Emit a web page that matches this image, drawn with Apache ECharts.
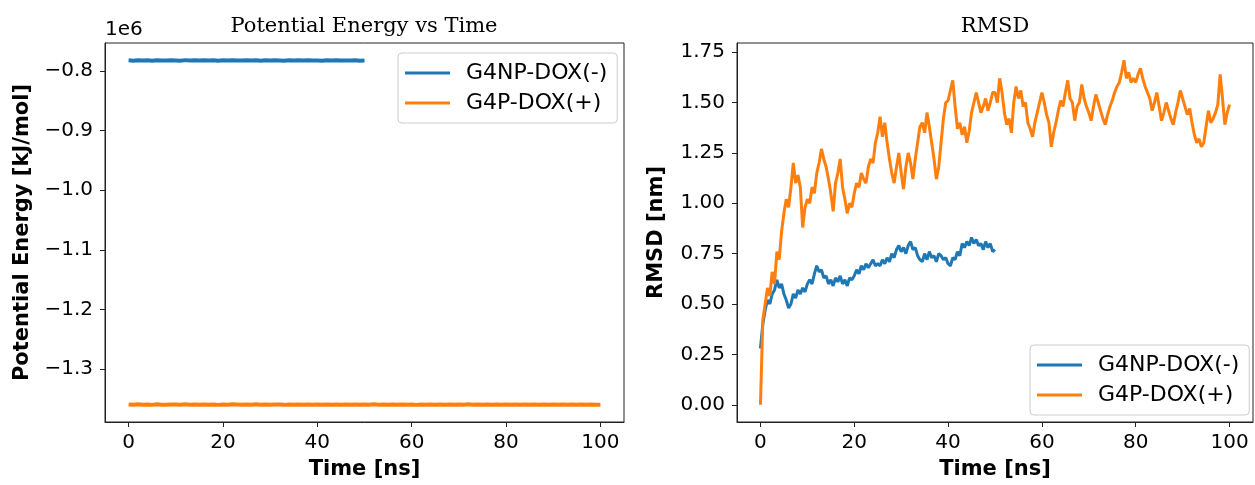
<!DOCTYPE html>
<html>
<head>
<meta charset="utf-8">
<script src="https://cdn.jsdelivr.net/npm/echarts@6/dist/echarts.min.js"></script>
<style>
html,body{margin:0;padding:0;background:#fff;}
#chart{width:1255px;height:485px;}
</style>
</head>
<body>
<div id="chart"></div>
<script>
// ---------- data ----------
const seriesNames = ['G4NP-DOX(-)', 'G4P-DOX(+)'];
const timeTicks = [0, 20, 40, 60, 80, 100];
const energyTicks = [-1300000, -1200000, -1100000, -1000000, -900000, -800000];
const rmsdTicks = [0, 0.25, 0.5, 0.75, 1.0, 1.25, 1.5, 1.75];

// Potential energy (kJ/mol), one sample per ns
const energyStep = 1;
const energyG4NP = [
  -782500, -783100, -782400, -782900, -782600, -783200, -782300, -782800, -783000, -782500,
  -782700, -783100, -782200, -782900, -782600, -783000, -782400, -782800, -782500, -783100,
  -782600, -782900, -782300, -782700, -783000, -782500, -782800, -782400, -783100, -782600,
  -782900, -782500, -782700, -783200, -782400, -782800, -782600, -783000, -782500, -782900,
  -782700, -783100, -782400, -782800, -782600, -783000, -782700, -782900, -782500, -783100,
  -782800
];
const energyG4P = [
  -1359100, -1359700, -1358900, -1359500, -1359200, -1359800, -1358800, -1359400, -1359600, -1359000,
  -1359300, -1359700, -1358800, -1359500, -1359100, -1359600, -1359000, -1359400, -1359200, -1359800,
  -1359000, -1359500, -1358900, -1359300, -1359700, -1359100, -1359400, -1358900, -1359600, -1359200,
  -1359500, -1359000, -1359300, -1359800, -1359100, -1359400, -1359200, -1359600, -1359000, -1359500,
  -1359300, -1359700, -1359000, -1359400, -1359200, -1359600, -1359100, -1359500, -1359000, -1359700,
  -1359300, -1359600, -1358900, -1359400, -1359100, -1359700, -1359200, -1359500, -1359000, -1359400,
  -1359200, -1359800, -1359000, -1359400, -1359100, -1359600, -1359000, -1359500, -1359200, -1359700,
  -1359100, -1359500, -1358900, -1359400, -1359200, -1359600, -1359000, -1359500, -1359300, -1359700,
  -1359100, -1359500, -1359000, -1359400, -1359200, -1359700, -1359000, -1359500, -1359100, -1359600,
  -1359300, -1359700, -1359000, -1359400, -1359200, -1359600, -1359100, -1359500, -1359200, -1359700,
  -1359400
];

// RMSD (nm), one sample per 0.5 ns
const rmsdStep = 0.5;
const rmsdG4NP = [
  0.28, 0.40, 0.47, 0.52, 0.50, 0.55, 0.57, 0.62, 0.58, 0.60,
  0.55, 0.52, 0.48, 0.50, 0.55, 0.53, 0.57, 0.55, 0.58, 0.56,
  0.60, 0.62, 0.60, 0.65, 0.69, 0.66, 0.67, 0.63, 0.64, 0.60,
  0.62, 0.59, 0.63, 0.61, 0.64, 0.60, 0.62, 0.59, 0.63, 0.62,
  0.64, 0.67, 0.65, 0.69, 0.67, 0.70, 0.68, 0.70, 0.72, 0.69,
  0.70, 0.69, 0.72, 0.70, 0.73, 0.71, 0.75, 0.73, 0.77, 0.79,
  0.76, 0.78, 0.75, 0.79, 0.81, 0.77, 0.78, 0.74, 0.72, 0.71,
  0.75, 0.72, 0.76, 0.73, 0.74, 0.71, 0.75, 0.74, 0.72, 0.73,
  0.70, 0.69, 0.73, 0.72, 0.76, 0.74, 0.80, 0.78, 0.81, 0.79,
  0.83, 0.80, 0.82, 0.79, 0.80, 0.77, 0.81, 0.78, 0.80, 0.76,
  0.77
];
const rmsdG4P = [
  0.00, 0.42, 0.50, 0.58, 0.54, 0.66, 0.60, 0.76, 0.72, 0.86,
  0.95, 1.02, 0.98, 1.08, 1.20, 1.10, 1.14, 1.08, 0.88, 0.98,
  1.02, 1.00, 1.08, 1.05, 1.15, 1.20, 1.27, 1.22, 1.18, 1.12,
  1.05, 0.96, 1.10, 1.15, 1.22, 1.08, 1.02, 0.95, 1.00, 0.98,
  1.05, 1.10, 1.08, 1.15, 1.12, 1.10, 1.18, 1.22, 1.20, 1.30,
  1.35, 1.43, 1.33, 1.40, 1.30, 1.22, 1.15, 1.10, 1.18, 1.25,
  1.15, 1.07, 1.18, 1.25, 1.20, 1.12, 1.22, 1.30, 1.38, 1.40,
  1.35, 1.45, 1.38, 1.30, 1.22, 1.12, 1.18, 1.30, 1.42, 1.50,
  1.51, 1.56, 1.61, 1.48, 1.37, 1.40, 1.34, 1.38, 1.30, 1.36,
  1.45, 1.50, 1.55, 1.50, 1.45, 1.48, 1.52, 1.46, 1.50, 1.55,
  1.55, 1.50, 1.62, 1.55, 1.45, 1.39, 1.42, 1.35, 1.50, 1.58,
  1.52, 1.56, 1.48, 1.50, 1.40, 1.37, 1.33, 1.40, 1.45, 1.50,
  1.55, 1.50, 1.44, 1.40, 1.28, 1.35, 1.40, 1.46, 1.51, 1.48,
  1.55, 1.61, 1.52, 1.50, 1.41, 1.48, 1.50, 1.59, 1.52, 1.48,
  1.45, 1.41, 1.48, 1.54, 1.50, 1.46, 1.42, 1.39, 1.44, 1.48,
  1.51, 1.55, 1.58, 1.60, 1.65, 1.71, 1.62, 1.65, 1.60, 1.62,
  1.60, 1.64, 1.67, 1.62, 1.58, 1.55, 1.52, 1.46, 1.50, 1.55,
  1.48, 1.41, 1.45, 1.50, 1.46, 1.42, 1.39, 1.45, 1.50, 1.56,
  1.52, 1.48, 1.44, 1.47, 1.40, 1.34, 1.30, 1.32, 1.28, 1.30,
  1.38, 1.46, 1.40, 1.42, 1.45, 1.49, 1.64, 1.52, 1.39, 1.45,
  1.49
];

// ---------- build ----------
const toPairs = (arr, step) => arr.map((v, i) => [i * step, v]);
const BLUE = '#1f77b4', ORANGE = '#ff7f0e';
const SANS = 'DejaVu Sans';
const SERIF = 'DejaVu Serif';
const tickFont = {fontFamily: SANS, fontSize: 20, color: '#000'};
const nameFont = {fontFamily: SANS, fontSize: 21, fontWeight: 'bold', color: '#000'};

function xAxisFor(idx) {
  return {
    type: 'value', gridIndex: idx, min: -5, max: 105,
    name: 'Time [ns]', nameLocation: 'middle', nameGap: 37, nameTextStyle: nameFont,
    axisLine: {show: true, onZero: false, lineStyle: {color: '#222', width: 1}},
    axisTick: {show: true, length: 5, lineStyle: {color: '#222', width: 1}, customValues: timeTicks},
    axisLabel: Object.assign({margin: 11, customValues: timeTicks}, tickFont),
    splitLine: {show: false}
  };
}

function legendAt(left, top) {
  return {
    orient: 'vertical', left: left, top: top,
    data: seriesNames,
    icon: 'rect', itemWidth: 45, itemHeight: 3, itemGap: 8,
    padding: [9, 10, 9, 7],
    borderColor: '#cccccc', borderWidth: 1, borderRadius: 4,
    backgroundColor: 'rgba(255,255,255,0.8)',
    textStyle: {fontFamily: SANS, fontSize: 22, color: '#000', padding: [0, 0, 0, 11]},
    selectedMode: false
  };
}

const option = {
  animation: false,
  backgroundColor: '#fff',
  title: [
    {text: 'Potential Energy vs Time', left: 359, top: 11, textAlign: 'center',
     textStyle: {fontFamily: SERIF, fontSize: 21, fontWeight: 'normal', color: '#000'}},
    {text: 'RMSD', left: 990, top: 11, textAlign: 'center',
     textStyle: {fontFamily: SERIF, fontSize: 21, fontWeight: 'normal', color: '#000'}}
  ],
  graphic: [
    {type: 'text', left: 105, top: 20, style: {text: '1e6', font: '20px "DejaVu Sans"', fill: '#000'}}
  ],
  grid: [
    {left: 105, right: 631, top: 43, bottom: 60, show: true, borderColor: '#222', borderWidth: 1, containLabel: false},
    {left: 737, right: 2, top: 43, bottom: 60, show: true, borderColor: '#222', borderWidth: 1, containLabel: false}
  ],
  xAxis: [xAxisFor(0), xAxisFor(1)],
  yAxis: [
    {
      type: 'value', gridIndex: 0, min: -1388500, max: -753500,
      name: 'Potential Energy [kJ/mol]', nameLocation: 'middle', nameGap: 72, nameTextStyle: nameFont,
      axisLine: {show: true, onZero: false, lineStyle: {color: '#222', width: 1}},
      axisTick: {show: true, length: 5, lineStyle: {color: '#222', width: 1}, customValues: energyTicks},
      axisLabel: Object.assign({margin: 12, customValues: energyTicks,
        formatter: v => (v / 1e6).toFixed(1).replace('-', '\u2212')}, tickFont),
      splitLine: {show: false}
    },
    {
      type: 'value', gridIndex: 1, min: -0.0855, max: 1.7955,
      name: 'RMSD [nm]', nameLocation: 'middle', nameGap: 70, nameTextStyle: nameFont,
      axisLine: {show: true, onZero: false, lineStyle: {color: '#222', width: 1}},
      axisTick: {show: true, length: 5, lineStyle: {color: '#222', width: 1}, customValues: rmsdTicks},
      axisLabel: Object.assign({margin: 12, customValues: rmsdTicks,
        formatter: v => v.toFixed(2)}, tickFont),
      splitLine: {show: false}
    }
  ],
  legend: [legendAt(398, 53), legendAt(1030, 345)],
  series: [
    {name: seriesNames[0], type: 'line', xAxisIndex: 0, yAxisIndex: 0, data: toPairs(energyG4NP, energyStep),
     showSymbol: false, symbol: 'none', color: BLUE, lineStyle: {color: BLUE, width: 4}},
    {name: seriesNames[1], type: 'line', xAxisIndex: 0, yAxisIndex: 0, data: toPairs(energyG4P, energyStep),
     showSymbol: false, symbol: 'none', color: ORANGE, lineStyle: {color: ORANGE, width: 4}},
    {name: seriesNames[0], type: 'line', xAxisIndex: 1, yAxisIndex: 1, data: toPairs(rmsdG4NP, rmsdStep),
     showSymbol: false, symbol: 'none', color: BLUE, lineStyle: {color: BLUE, width: 3}},
    {name: seriesNames[1], type: 'line', xAxisIndex: 1, yAxisIndex: 1, data: toPairs(rmsdG4P, rmsdStep),
     showSymbol: false, symbol: 'none', color: ORANGE, lineStyle: {color: ORANGE, width: 3}}
  ]
};

const chart = echarts.init(document.getElementById('chart'), null, {renderer: 'canvas'});
chart.setOption(option);
</script>
</body>
</html>
